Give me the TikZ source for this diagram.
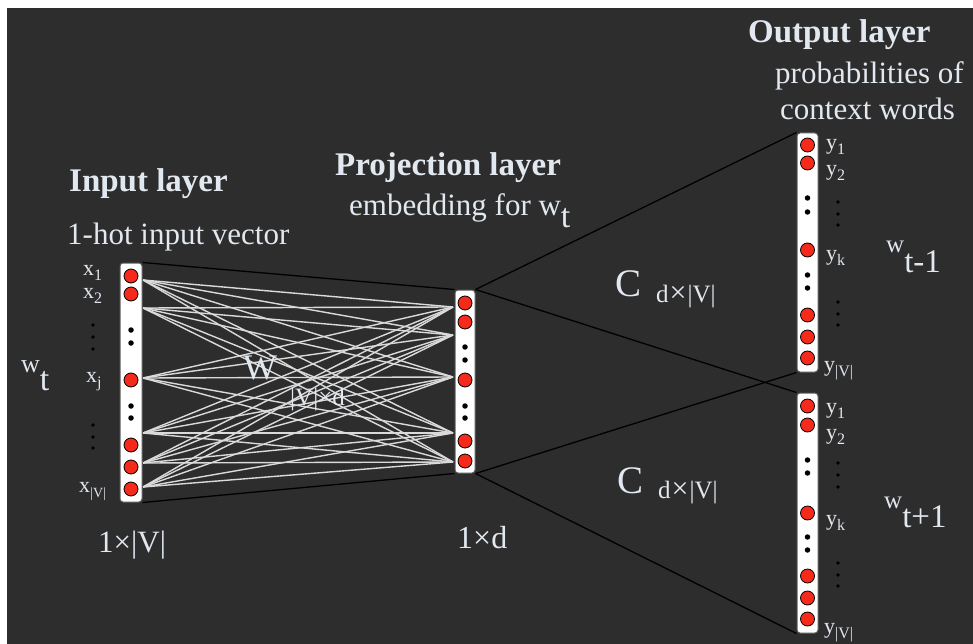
\documentclass[tikz,border=0pt]{standalone}
\usepackage{fontspec}
\setmainfont{Liberation Serif}
\definecolor{bgc}{HTML}{2D2D2D}
\definecolor{txtc}{HTML}{E2E8F0}
\definecolor{neur}{HTML}{F52A1A}
\definecolor{fanc}{HTML}{DADADA}
\definecolor{barline}{HTML}{5A5A5A}
\newcommand\fsz[1]{\fontsize{#1}{#1}\selectfont}
\newcommand\lowsub[3]{\raisebox{-#1pt}{\fsz{#2}#3}}
\begin{document}
\begin{tikzpicture}[x=1pt,y=-1pt,
  bar/.style={draw=barline, fill=white, rounded corners=3pt, line width=1pt, inner sep=0},
  neuron/.style={circle, draw=black, fill=neur, line width=0.8pt, minimum size=14pt, inner sep=0},
  dotn/.style={circle, fill=black, minimum size=5.5pt, inner sep=0},
  vdot/.style={circle, fill=black, minimum size=3.6pt, inner sep=0},
  lbl/.style={text=txtc, inner sep=0, anchor=base west},
  fanl/.style={draw=fanc, line width=1.4pt},
  conn/.style={draw=black, line width=1.3pt}]
\useasboundingbox (0,0) rectangle (973,644);
\fill[white] (0,0) rectangle (973,644);
\fill[bgc] (7,8) rectangle (973,644);

% fan of weights
\foreach \a/\ya in {1/280,2/308,3/378,4/433,5/463,6/487}
  \coordinate (fl\a) at (143,\ya);
\foreach \b/\yb in {1/307,2/335,3/377,4/433,5/462}
  \coordinate (fr\b) at (453,\yb);
\foreach \a in {1,...,6}
  \foreach \b in {1,...,5}
    \draw[fanl] (fl\a) -- (fr\b);

% bars
\node[bar, minimum width=22pt, minimum height=239pt] (inbar) at (131,382.5) {};
\node[bar, minimum width=20pt, minimum height=183pt] (projbar) at (465,381.5) {};
\node[bar, minimum width=21pt, minimum height=239pt] (out1) at (807.5,252.5) {};
\node[bar, minimum width=21pt, minimum height=240pt] (out2) at (807.5,513) {};

% black connectors
\draw[conn] (inbar.north east) -- (projbar.north west);
\draw[conn] (inbar.south east) -- (projbar.south west);
\draw[conn] (projbar.north east) -- (out1.north west);
\draw[conn] (projbar.north east) -- (out2.north west);
\draw[conn] (projbar.south east) -- (out1.south west);
\draw[conn] (projbar.south east) -- (out2.south west);

% neurons
\foreach \i/\y in {1/276,2/294,3/380,4/445,5/467,6/489}
  \node[neuron] (in\i) at (131,\y) {};
\foreach \i/\y in {1/330,2/343,3/406,4/418}
  \node[dotn] (ind\i) at (131,\y) {};
\foreach \i/\y in {1/303,2/322,3/380,4/441,5/461}
  \node[neuron] (pr\i) at (465,\y) {};
\foreach \i/\y in {1/347,2/360,3/406,4/418}
  \node[dotn] (prd\i) at (465,\y) {};
\foreach \i/\y in {1/145,2/163,3/250,4/315,5/337,6/358}
  \node[neuron] (oa\i) at (807.5,\y) {};
\foreach \i/\y in {1/198,2/212,3/275,4/288}
  \node[dotn] (oad\i) at (807.5,\y) {};
\foreach \i/\y in {1/406,2/425,3/513,4/576,5/598,6/619}
  \node[neuron] (ob\i) at (807.5,\y) {};
\foreach \i/\y in {1/460,2/473,3/537,4/550}
  \node[dotn] (obd\i) at (807.5,\y) {};

% vertical ellipsis dots beside labels
\foreach \i/\y in {1/325,2/337,3/349,4/425,5/437,6/448}
  \node[vdot] (xv\i) at (93,\y) {};
\foreach \i/\y in {1/202,2/214,3/225,4/302,5/314,6/325}
  \node[vdot] (yav\i) at (838,\y) {};
\foreach \i/\y in {1/463,2/475,3/487,4/563,5/575,6/586}
  \node[vdot] (ybv\i) at (838,\y) {};

% titles
\node[lbl, font=\fsz{33}\bfseries] (tin) at (69,192) {Input layer};
\node[lbl, font=\fsz{31}] (tin2) at (67,244) {1-hot input vector};
\node[lbl, font=\fsz{33}\bfseries] (tpr) at (335,176) {Projection layer};
\node[lbl, font=\fsz{31}] (tpr2) at (349,215) {embedding for w\lowsub{13}{34}{t}};
\node[lbl, font=\fsz{33}\bfseries] (tout) at (748,43) {Output layer};
\node[lbl, font=\fsz{31}] (tout2) at (775,84) {probabilities of};
\node[lbl, font=\fsz{31}] (tout3) at (780,120) {context words};

% input labels
\node[lbl, font=\fsz{22}] (lx1) at (83,275) {x\lowsub{5}{16}{1}};
\node[lbl, font=\fsz{22}] (lx2) at (83,298) {x\lowsub{5}{16}{2}};
\node[lbl, font=\fsz{22}] (lxj) at (86,382) {x\lowsub{5}{16}{j}};
\node[lbl, font=\fsz{22}] (lxv) at (79,492) {x\lowsub{5}{14}{|V|}};
\node[lbl, font=\fsz{26}] (lwt) at (21,372) {w\lowsub{18}{34}{t}};

% output labels
\node[lbl, font=\fsz{22}] (ya1) at (826,150) {y\lowsub{5}{16}{1}};
\node[lbl, font=\fsz{22}] (ya2) at (826,176) {y\lowsub{5}{16}{2}};
\node[lbl, font=\fsz{22}] (yak) at (826,260) {y\lowsub{5}{16}{k}};
\node[lbl, font=\fsz{22}] (yav) at (824,371) {y\lowsub{5}{16}{|V|}};
\node[lbl, font=\fsz{22}] (yb1) at (826,413) {y\lowsub{5}{16}{1}};
\node[lbl, font=\fsz{22}] (yb2) at (826,439) {y\lowsub{5}{16}{2}};
\node[lbl, font=\fsz{22}] (ybk) at (826,525) {y\lowsub{5}{16}{k}};
\node[lbl, font=\fsz{22}] (ybv) at (824,633) {y\lowsub{5}{16}{|V|}};
\node[lbl, font=\fsz{25}] (wtm) at (886,252) {w\lowsub{20}{33}{t-1}};
\node[lbl, font=\fsz{25}] (wtp) at (884,508) {w\lowsub{19}{33}{t+1}};

% dimension labels
\node[lbl, font=\fsz{31}] (dimin) at (98,552) {1×|V|};
\node[lbl, font=\fsz{32}] (dimpr) at (457,548) {1×d};
\node[lbl, font=\fsz{36}] (wlab) at (243,379) {W};
\node[lbl, font=\fsz{25}] (wdim) at (290,405) {|V|×d};
\node[lbl, font=\fsz{39}] (c1) at (615,296) {C\hspace{15pt}\lowsub{6}{25}{d\kern1pt{\fsz{30}×}\kern1pt|V|}};
\node[lbl, font=\fsz{39}] (c2) at (617,493) {C\hspace{15pt}\lowsub{5}{25}{d\kern1pt{\fsz{30}×}\kern1pt|V|}};
\end{tikzpicture}
\end{document}
